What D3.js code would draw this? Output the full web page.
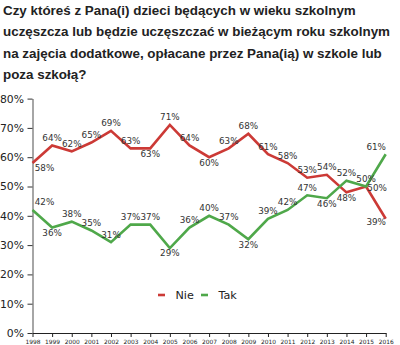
<!DOCTYPE html>
<html>
<head>
<meta charset="utf-8">
<script src="https://cdn.jsdelivr.net/npm/d3@7"></script>
<style>
  html, body { margin: 0; padding: 0; background: #fff; }
  svg { display: block; font-family: "Liberation Sans", Arial, sans-serif; }
</style>
</head>
<body>
<svg id="chart" width="400" height="345"></svg>
<script>
// Survey years and answer shares (%)
const years = [1998, 1999, 2000, 2001, 2002, 2003, 2004, 2005, 2006, 2007, 2008, 2009, 2010, 2011, 2012, 2013, 2014, 2015, 2016];
const nieValues = [58, 64, 62, 65, 69, 63, 63, 71, 64, 60, 63, 68, 61, 58, 53, 54, 48, 50, 39];
const takValues = [42, 36, 38, 35, 31, 37, 37, 29, 36, 40, 37, 32, 39, 42, 47, 46, 52, 50, 61];
const yTicks = [0, 10, 20, 30, 40, 50, 60, 70, 80];
const seriesNames = ["Nie", "Tak"];
const titleLines = [
  "Czy któreś z Pana(i) dzieci będących w wieku szkolnym",
  "uczęszcza lub będzie uczęszczać w bieżącym roku szkolnym",
  "na zajęcia dodatkowe, opłacane przez Pana(ią) w szkole lub",
  "poza szkołą?"
];
// where each value label sits relative to its point: a = above, b = below, r = right
const nieLabelPos = ["b","a","a","a","a","a","b","a","a","b","a","a","a","a","a","a","b","a","b"];
const takLabelPos = ["a","b","a","a","a","a","a","b","a","a","a","b","a","a","a","b","a","r","a"];

const colors = { Nie: "#cc3a36", Tak: "#4fa84a" };

const svg = d3.select("#chart");

// title
svg.append("g").selectAll("text").data(titleLines).join("text")
  .attr("x", 3)
  .attr("y", (d, i) => 15 + i * 21.3)
  .attr("font-size", 13.4)
  .attr("font-weight", "bold")
  .attr("fill", "#222")
  .text(d => d);

const x = d3.scalePoint().domain(years).range([32.5, 385.7]);
const y = d3.scaleLinear().domain([0, 80]).range([333, 98.6]);

// y axis
const yAxis = svg.append("g")
  .attr("transform", "translate(32.5,0)")
  .call(d3.axisLeft(y).tickValues(yTicks).tickFormat(d => d + "%").tickSize(5).tickSizeOuter(0));
yAxis.select(".domain").attr("stroke", "#888").attr("stroke-width", 1.5);
yAxis.selectAll(".tick line").attr("stroke", "#333");
yAxis.selectAll(".tick text")
  .attr("x", -8.5)
  .attr("font-size", 10.8)
  .attr("font-family", "DejaVu Sans, sans-serif")
  .attr("fill", "#222");

// x axis
const xAxis = svg.append("g")
  .attr("transform", "translate(0,333)")
  .call(d3.axisBottom(x).tickSize(4).tickSizeOuter(0));
xAxis.select(".domain").attr("stroke", "#222").attr("stroke-width", 1.2);
xAxis.selectAll(".tick line").attr("stroke", "#222");
xAxis.selectAll(".tick text")
  .attr("y", 6.5)
  .attr("font-size", 5.9)
  .attr("font-family", "DejaVu Sans, sans-serif")
  .attr("fill", "#222");

const series = [
  { name: "Nie", values: nieValues, pos: nieLabelPos },
  { name: "Tak", values: takValues, pos: takLabelPos }
];

const line = d3.line().x((d, i) => x(years[i])).y(d => y(d));

svg.append("g").selectAll("path").data(series).join("path")
  .attr("d", s => line(s.values))
  .attr("fill", "none")
  .attr("stroke", s => colors[s.name])
  .attr("stroke-width", 2.6)
  .attr("stroke-linejoin", "miter");

// value labels
const last = years.length - 1;
series.forEach(s => {
  svg.append("g").selectAll("text")
    .data(s.values.map((v, i) => ({ v, i, p: s.pos[i] })))
    .join("text")
    .attr("x", d => {
      const cx = x(years[d.i]);
      if (d.p === "r") return cx + 11;
      if (d.i === 0) return cx + 12;
      if (d.i === last) return cx - 9.5;
      return cx;
    })
    .attr("y", d => {
      const cy = y(d.v);
      if (d.p === "a") return cy - 4.5;
      if (d.p === "r") return cy + 4;
      if (d.i === last) return cy + 6;
      return cy + 8.3;
    })
    .attr("text-anchor", "middle")
    .attr("font-size", 8.8)
    .attr("font-family", "DejaVu Sans, sans-serif")
    .attr("fill", "#333")
    .text(d => d.v + "%");
});

// legend
const legend = svg.append("g").attr("transform", "translate(158,295)");
const legendItems = legend.selectAll("g").data(seriesNames).join("g")
  .attr("transform", (d, i) => `translate(${i * 43},0)`);
legendItems.append("line")
  .attr("x1", 0).attr("x2", 7)
  .attr("stroke", d => colors[d]).attr("stroke-width", 2.6);
legendItems.append("text")
  .attr("x", 17.5).attr("y", 4.3)
  .attr("font-size", 11.2)
  .attr("font-family", "DejaVu Sans, sans-serif")
  .attr("fill", "#222")
  .text(d => d);
</script>
</body>
</html>
